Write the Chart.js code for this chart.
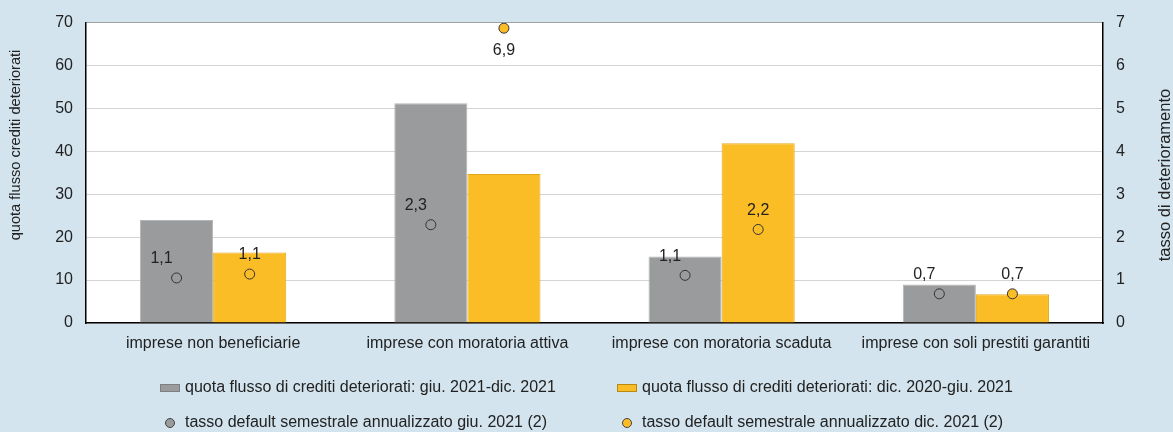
<!DOCTYPE html>
<html>
<head>
<meta charset="utf-8">
<script src="https://cdn.jsdelivr.net/npm/chart.js@4/dist/chart.umd.min.js"></script>
<style>
  html, body { margin: 0; padding: 0; background: #d3e4ee; }
  #wrap { width: 1173px; height: 432px; position: relative; }
</style>
</head>
<body>
<div id="wrap"><canvas id="chart" width="1173" height="432"></canvas></div>
<script>
// categories and values
const categories = ['imprese non beneficiarie', 'imprese con moratoria attiva', 'imprese con moratoria scaduta', 'imprese con soli prestiti garantiti'];
const shareH2 = [24.0, 51.2, 15.5, 9.0];      // giu. 2021-dic. 2021
const shareH1 = [16.4, 34.7, 41.9, 6.7];      // dic. 2020-giu. 2021
const rateJun = [1.05, 2.29, 1.11, 0.68];
const rateDec = [1.14, 6.87, 2.18, 0.68];
const rateJunLabels = ['1,1', '2,3', '1,1', '0,7'];
const rateDecLabels = ['1,1', '6,9', '2,2', '0,7'];
const leftTicks = [0, 10, 20, 30, 40, 50, 60, 70];
const rightTicks = [0, 1, 2, 3, 4, 5, 6, 7];

const GREY = '#999b9c';
const YELLOW = '#fbbd26';
const FONT = '"Liberation Sans", Arial, sans-serif';
const SIZE = 16;

const legendItems = [
  { text: 'quota flusso di crediti deteriorati: giu. 2021-dic. 2021', kind: 'rect', color: GREY, border: '#7d7f80' },
  { text: 'quota flusso di crediti deteriorati: dic. 2020-giu. 2021', kind: 'rect', color: YELLOW, border: '#b98a10' },
  { text: 'tasso default semestrale annualizzato giu. 2021 (2)', kind: 'dot', color: GREY, border: '#444' },
  { text: 'tasso default semestrale annualizzato dic. 2021 (2)', kind: 'dot', color: YELLOW, border: '#444' }
];

// background: blue page, white plot area
const backdrop = {
  id: 'backdrop',
  beforeDraw(chart) {
    const { ctx, chartArea: a } = chart;
    ctx.save();
    ctx.fillStyle = '#d3e4ee';
    ctx.fillRect(0, 0, chart.width, chart.height);
    ctx.fillStyle = '#ffffff';
    ctx.fillRect(a.left, a.top, a.right - a.left, a.bottom - a.top);
    ctx.restore();
  }
};

// put each rate point on top of the matching bar instead of the category centre
const alignPoints = {
  id: 'alignPoints',
  afterDatasetsUpdate(chart) {
    chart.data.datasets.forEach((ds, i) => {
      if (ds.alignTo === undefined) return;
      const bars = chart.getDatasetMeta(ds.alignTo).data;
      chart.getDatasetMeta(i).data.forEach((pt, j) => { if (bars[j]) pt.x = bars[j].x; });
    });
  }
};

// value labels near the rate points
const pointLabels = {
  id: 'pointLabels',
  afterDatasetsDraw(chart) {
    const { ctx, chartArea } = chart;
    ctx.save();
    ctx.font = SIZE + 'px ' + FONT;
    ctx.fillStyle = '#222';
    ctx.textAlign = 'center';
    ctx.textBaseline = 'middle';
    chart.data.datasets.forEach((ds, i) => {
      if (!ds.valueLabels) return;
      chart.getDatasetMeta(i).data.forEach((pt, j) => {
        let y = pt.y - 19;
        if (y < chartArea.top + 8) y = pt.y + 22;
        ctx.fillText(ds.valueLabels[j], pt.x + ds.labelShift, y);
      });
    });
    ctx.restore();
  }
};

// axis titles, both reading bottom to top
const axisTitles = {
  id: 'axisTitles',
  afterDraw(chart) {
    const { ctx } = chart;
    ctx.save();
    ctx.fillStyle = '#222';
    ctx.textAlign = 'center';
    ctx.textBaseline = 'middle';
    [['quota flusso crediti deteriorati', 16, 145, 14.6], ['tasso di deterioramento', 1165, 175, 16.5]].forEach(([t, x, y, size]) => {
      ctx.save();
      ctx.font = size + 'px ' + FONT;
      ctx.translate(x, y);
      ctx.rotate(-Math.PI / 2);
      ctx.fillText(t, 0, 0);
      ctx.restore();
    });
    ctx.restore();
  }
};

// two-column legend under the chart
const gridLegend = {
  id: 'gridLegend',
  afterDraw(chart) {
    const { ctx } = chart;
    const cols = [170, 627];
    const rows = [388, 423];
    ctx.save();
    ctx.font = SIZE + 'px ' + FONT;
    ctx.textBaseline = 'middle';
    legendItems.forEach((it, i) => {
      const cx = cols[i % 2];
      const cy = rows[Math.floor(i / 2)];
      ctx.fillStyle = it.color;
      ctx.strokeStyle = it.border;
      ctx.lineWidth = 1;
      if (it.kind === 'rect') {
        ctx.fillRect(cx - 10, cy - 4, 20, 8);
        ctx.strokeRect(cx - 9.5, cy - 3.5, 19, 7);
      } else {
        ctx.beginPath();
        ctx.arc(cx, cy, 4.5, 0, Math.PI * 2);
        ctx.fill();
        ctx.stroke();
      }
      ctx.fillStyle = '#222';
      ctx.fillText(it.text, cx + 15, cy);
    });
    ctx.restore();
  }
};

const tickFont = { family: FONT, size: SIZE };

const ctx = document.getElementById('chart').getContext('2d');
new Chart(ctx, {
  data: {
    labels: categories,
    datasets: [
      { type: 'bar', label: legendItems[0].text, data: shareH2, yAxisID: 'y', backgroundColor: GREY, borderColor: '#b3b5b6', borderWidth: 1, order: 2, categoryPercentage: 0.575, barPercentage: 1.0 },
      { type: 'bar', label: legendItems[1].text, data: shareH1, yAxisID: 'y', backgroundColor: YELLOW, borderColor: '#e3a91e', borderWidth: 1, order: 2, categoryPercentage: 0.575, barPercentage: 1.0 },
      { type: 'line', label: legendItems[2].text, data: rateJun, yAxisID: 'y2', showLine: false, pointRadius: 5, pointBackgroundColor: GREY, pointBorderColor: '#333', pointBorderWidth: 1, order: 0, alignTo: 0, valueLabels: rateJunLabels, labelShift: -15 },
      { type: 'line', label: legendItems[3].text, data: rateDec, yAxisID: 'y2', showLine: false, pointRadius: 5, pointBackgroundColor: YELLOW, pointBorderColor: '#333', pointBorderWidth: 1, order: 0, alignTo: 1, valueLabels: rateDecLabels, labelShift: 0 }
    ]
  },
  options: {
    responsive: false,
    animation: false,
    layout: { padding: { top: 21, left: 0, right: 0, bottom: 0 } },
    plugins: { legend: { display: false }, tooltip: { enabled: false } },
    scales: {
      x: {
        grid: { display: false, drawTicks: false },
        border: { display: true, color: '#000', width: 1.5 },
        ticks: { color: '#222', font: tickFont, padding: 11, maxRotation: 0 },
        afterFit: (s) => { s.height = 109; }
      },
      y: {
        position: 'left',
        min: leftTicks[0], max: leftTicks[leftTicks.length - 1],
        afterBuildTicks: (s) => { s.ticks = leftTicks.map((v) => ({ value: v })); },
        grid: { color: (c) => c.tick.value === 70 ? '#a0a0a0' : '#d4d4d4', drawTicks: false },
        border: { display: true, color: '#000', width: 1.5 },
        ticks: { color: '#222', font: tickFont, padding: 13 },
        afterFit: (s) => { s.width = 86; }
      },
      y2: {
        position: 'right',
        min: rightTicks[0], max: rightTicks[rightTicks.length - 1],
        afterBuildTicks: (s) => { s.ticks = rightTicks.map((v) => ({ value: v })); },
        grid: { display: false, drawTicks: false },
        border: { display: true, color: '#000', width: 1.5 },
        ticks: { color: '#222', font: tickFont, padding: 13 },
        afterFit: (s) => { s.width = 70; }
      }
    }
  },
  plugins: [backdrop, alignPoints, pointLabels, axisTitles, gridLegend]
});
</script>
</body>
</html>
